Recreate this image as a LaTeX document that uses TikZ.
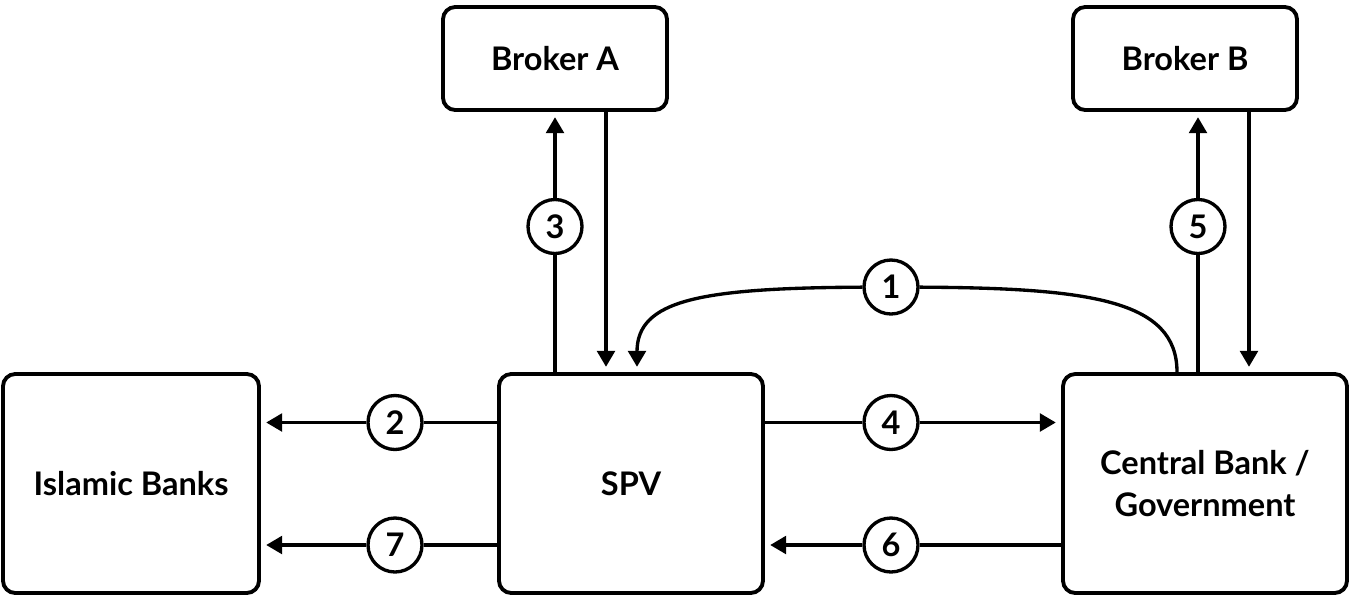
\documentclass[tikz,border=0pt]{standalone}
\usepackage{fontspec}
\setmainfont{Lato}
\usetikzlibrary{arrows.meta}

\tikzset{
    box/.style={draw, line width=2.2pt, rounded corners=7pt, align=center,
        font=\fontsize{18.5}{24}\selectfont\bfseries},
    num/.style={circle, draw, fill=white, line width=1.9pt, minimum size=1.08cm,
        inner sep=0pt, font=\fontsize{18.5}{20}\selectfont\bfseries},
    flow/.style={line width=1.9pt, -{Triangle[length=9pt,width=10pt]}, shorten >=3pt},
}

\begin{document}
\begin{tikzpicture}
        \useasboundingbox (0,0) rectangle (27.04,-11.94);

        % Define the parties
        \node[box, minimum width=4.48cm, minimum height=2.06cm] (brA) at (11.10,-1.17) {Broker A};
        \node[box, minimum width=4.48cm, minimum height=2.06cm] (brB) at (23.70,-1.17) {Broker B};
        \node[box, minimum width=5.12cm, minimum height=4.38cm] (ib) at (2.62,-9.67) {Islamic Banks};
        \node[box, minimum width=5.28cm, minimum height=4.38cm] (spv) at (12.62,-9.67) {SPV};
        \node[box, minimum width=5.68cm, minimum height=4.38cm] (cb) at (24.10,-9.67) {Central Bank /\\ Government};

        % Define the steps
        \node[num] (n1) at (17.82,-5.74) {1};
        \node[num] (n2) at (7.90,-8.45) {2};
        \node[num] (n3) at (11.10,-4.53) {3};
        \node[num] (n4) at (17.82,-8.45) {4};
        \node[num] (n5) at (23.96,-4.53) {5};
        \node[num] (n6) at (17.82,-10.90) {6};
        \node[num] (n7) at (7.90,-10.90) {7};

        % Define the flows
        \draw[flow] ([xshift=-0.56cm]cb.north) .. controls (23.54,-6.0) and (21.8,-5.76) .. (n1)
            .. controls (14.0,-5.76) and (12.74,-6.0) .. ([xshift=0.12cm]spv.north);
        \draw[flow] (spv.west |- n2) -- (n2) -- (ib.east |- n2);
        \draw[flow] (spv.north -| n3) -- (n3) -- (brA.south -| n3);
        \draw[flow] ([xshift=1.02cm]brA.south) -- ([xshift=1.02cm]brA.south |- spv.north);
        \draw[flow] (spv.east |- n4) -- (n4) -- (cb.west |- n4);
        \draw[flow] (cb.north -| n5) -- (n5) -- (brB.south -| n5);
        \draw[flow] ([xshift=1.28cm]brB.south) -- ([xshift=1.28cm]brB.south |- cb.north);
        \draw[flow] (cb.west |- n6) -- (n6) -- (spv.east |- n6);
        \draw[flow] (spv.west |- n7) -- (n7) -- (ib.east |- n7);

    \end{tikzpicture}
\end{document}
